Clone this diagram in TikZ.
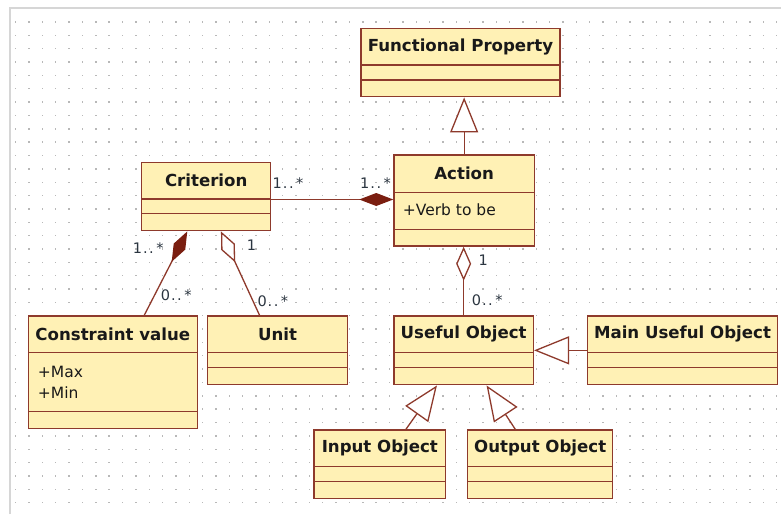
\documentclass[tikz,border=0pt]{standalone}
\usepackage{fontspec}
\setmainfont{DejaVu Sans}
\usetikzlibrary{arrows.meta,fit,calc}
\definecolor{umlline}{HTML}{8E3A2C}
\definecolor{umlfill}{HTML}{FFF1B5}
\definecolor{umldark}{HTML}{7A1E10}
\definecolor{dotc}{HTML}{B8B8B8}
\definecolor{framec}{HTML}{D6D6D6}
\definecolor{labc}{HTML}{2B3540}
\tikzset{
  cls/.style={draw=umlline, fill=umlfill, line width=1.5pt, inner sep=0pt, rectangle},
  cname/.style={font=\bfseries\fontsize{16.6}{19}\selectfont, text=black!90, inner sep=0pt},
  attr/.style={font=\fontsize{15.5}{18}\selectfont, anchor=west, inner sep=0pt, text=black!90},
  mult/.style={font=\fontsize{14.5}{16}\selectfont, anchor=west, inner sep=0pt, text=labc},
  conn/.style={draw=umlline, line width=1.3pt},
  gen/.style={conn, -{Triangle[open, length=35pt, width=28pt, fill=white]}},
  compend/.style={conn, -{Diamond[length=34pt, width=13pt, fill=umldark, color=umldark]}},
  compstart/.style={conn, {Diamond[length=34pt, width=13pt, fill=umldark, color=umldark]}-},
  aggstart/.style={conn, {Diamond[open, length=34pt, width=15pt, fill=white]}-},
}
\newcommand\umlbox[8]{%
  \node[cls, fit={(#2,#3)(#4,#5)}] (#1) {};
  \draw[umlline, line width=1.5pt] (#2,#6) -- (#4,#6);
  \draw[umlline, line width=1.5pt] (#2,#7) -- (#4,#7);
  \node[cname] (#1-name) at ({(#2+#4)/2},{(#3+#6)/2}) {#8};
}
\newcommand\mstar[1]{#1\kern1pt.\kern1.5pt.\kern2.5pt*}
\begin{document}
\begin{tikzpicture}[x=1pt,y=-1pt]
\useasboundingbox (0,0) rectangle (781,514);
\fill[white] (0,0) rectangle (781,514);
% dotted grid
\foreach \i in {0,...,57}{
  \foreach \j in {0,...,36}{
    \fill[dotc] ({15+\i*13.35},{21.3+\j*13.35}) rectangle +(1.4,1.4);
  }
}
\draw[framec, line width=1.5pt] (10,514) -- (10,8) -- (781,8);

% classes
\umlbox{fp}{361}{28.3}{560}{96.7}{65}{80}{Functional Property}
\umlbox{act}{394}{155}{534.3}{246}{192.3}{229.3}{Action}
\umlbox{crit}{141.7}{162.3}{270.7}{230.7}{199}{213.7}{Criterion}
\umlbox{cons}{28.3}{316}{197.3}{428.3}{352.7}{411.7}{Constraint value}
\umlbox{unit}{207.3}{316}{347.7}{384.7}{352.7}{367.7}{Unit}
\umlbox{uo}{394}{316}{533.3}{384.7}{352.7}{367.7}{Useful Object}
\umlbox{main}{587.7}{316}{777.3}{384.7}{352.7}{367.7}{Main Useful Object}
\umlbox{inp}{314}{430}{445.7}{498.3}{466.7}{481.7}{Input Object}
\umlbox{out}{467.7}{430}{612.7}{498.3}{466.7}{481.7}{Output Object}

% attributes
\node[attr] (a1) at (402.7,210) {+Verb to be};
\node[attr] (a2) at (37.7,371.7) {+Max};
\node[attr] (a3) at (37.7,392.7) {+Min};

% connectors
\draw[gen] (act.north) -- (act.north |- fp.south);
\coordinate (ca) at ([yshift=-3pt]crit.east);
\draw[compend] (ca) -- (ca -| act.west);
\draw[compstart] ([xshift=46.3pt]crit.south west) -- ([xshift=116.7pt]cons.north west);
\draw[aggstart] ([xshift=80pt]crit.south west) -- ([xshift=53pt]unit.north west);
\draw[aggstart] (uo.north |- act.south) -- (uo.north);
\draw[gen] (main.west) -- (main.west -| uo.east);
\draw[gen] ([xshift=92.7pt]inp.north west) -- ([xshift=43.7pt]uo.south west);
\draw[gen] ([xshift=48.3pt]out.north west) -- ([xshift=93.3pt]uo.south west);

% multiplicities
\node[mult] (m1) at (272.5,183) {\mstar{1}};
\node[mult] (m2) at (360,183) {\mstar{1}};
\node[mult] (m3) at (132.7,248) {\mstar{1}};
\node[mult] (m4) at (160.7,295) {\mstar{0}};
\node[mult] (m5) at (246.7,245) {1};
\node[mult] (m6) at (257.3,301.7) {\mstar{0}};
\node[mult] (m7) at (478.3,260) {1};
\node[mult] (m8) at (471.7,300) {\mstar{0}};
\end{tikzpicture}
\end{document}
